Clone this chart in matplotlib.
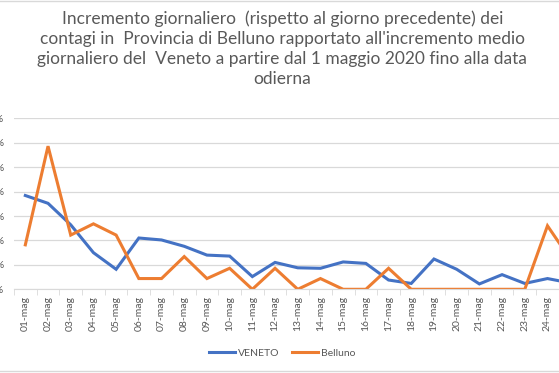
import matplotlib
matplotlib.use("Agg")
import matplotlib.pyplot as plt
from matplotlib.lines import Line2D

# daily increase, % of previous day
giorni = ["01-mag", "02-mag", "03-mag", "04-mag", "05-mag", "06-mag", "07-mag",
          "08-mag", "09-mag", "10-mag", "11-mag", "12-mag", "13-mag", "14-mag",
          "15-mag", "16-mag", "17-mag", "18-mag", "19-mag", "20-mag", "21-mag",
          "22-mag", "23-mag", "24-mag", "25-mag"]
veneto = [192, 176, 132, 75, 41, 105, 101, 88, 70, 68, 26, 55, 44, 43,
          56, 53, 19, 12, 62, 41, 11, 30, 12, 22, 13]
belluno = [91, 293, 111, 134, 111, 22, 22, 67, 22, 43, 0, 43, 0, 22,
           0, 0, 43, 0, 0, 0, 0, 0, 0, 130, 62]
yticks = [0, 50, 100, 150, 200, 250, 300, 350]

titolo = ("Incremento giornaliero  (rispetto al giorno precedente) dei\n"
          "contagi in  Provincia di Belluno rapportato all'incremento medio\n"
          "giornaliero del  Veneto a partire dal 1 maggio 2020 fino alla data\n"
          "odierna")

grigio = "#595959"
linea = "#d9d9d9"

plt.rcParams['font.family'] = ['Lato', 'DejaVu Sans']

fig = plt.figure(figsize=(5.59, 3.73), dpi=100)
ax = fig.add_axes([0.025, 0.2244, 1.0153, 0.4584])

x = list(range(len(giorni)))
ax.plot(x, veneto, color="#4472C4", lw=2.2, label="VENETO", solid_joinstyle="miter")
ax.plot(x, belluno, color="#ED7D31", lw=2.2, label="Belluno", solid_joinstyle="miter")

ax.set_xlim(-0.5, len(giorni) - 0.5)
ax.set_ylim(0, 350)
ax.set_yticks(yticks)
ax.set_yticklabels([f"{v}%" for v in yticks], color=grigio, fontsize=7.5)
ax.grid(axis="y", color=linea, lw=0.9)
ax.set_axisbelow(True)

# last day falls outside the visible frame, so only the first 24 get a label
ax.set_xticks(x[:24])
ax.set_xticklabels(giorni[:24], rotation=90, color=grigio, fontsize=7.5)
ax.set_xticks([i - 0.5 for i in range(len(giorni) + 1)], minor=True)
ax.tick_params(axis="x", which="major", length=0, pad=5)
ax.tick_params(axis="x", which="minor", length=4, color=linea)
ax.tick_params(axis="y", length=0, pad=7)

for s in ["top", "right", "left"]:
    ax.spines[s].set_visible(False)
ax.spines["bottom"].set_color(linea)

fig.text(0.505, 0.972, titolo, ha="center", va="top", fontsize=12.5,
         color=grigio, linespacing=1.3)

fig.legend(loc="center", bbox_to_anchor=(0.505, 0.053), ncol=2, frameon=False,
           fontsize=7.5, labelcolor=grigio, handlelength=2.5, columnspacing=1.2,
           handletextpad=0.3)

fig.add_artist(Line2D([0, 1], [0.998, 0.998], color=linea, lw=1))
fig.add_artist(Line2D([0, 1], [0.006, 0.006], color=linea, lw=1))

fig.savefig("out.png", dpi=100)
